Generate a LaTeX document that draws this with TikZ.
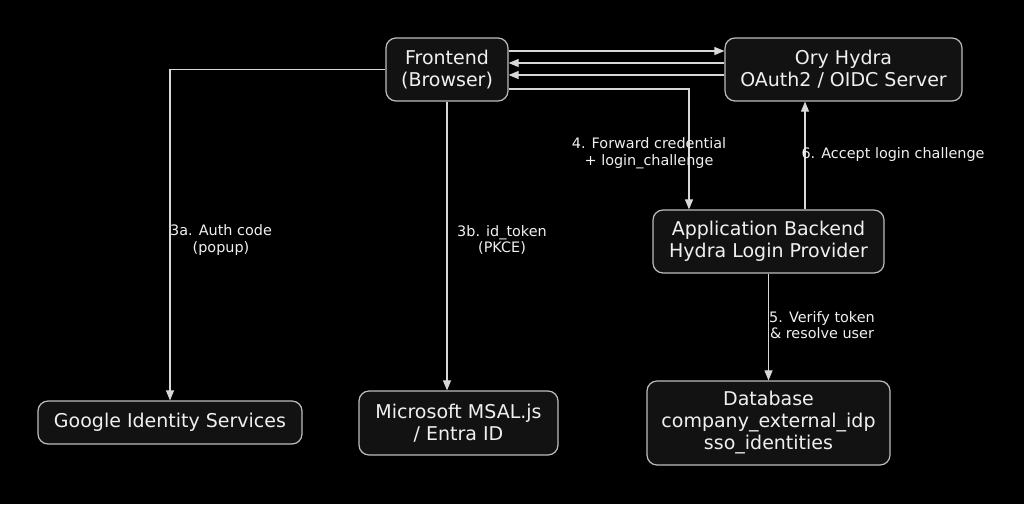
\documentclass[tikz,border=0pt]{standalone}
\usepackage{fontspec}
\setmainfont{DejaVu Sans}
\usetikzlibrary{arrows.meta,calc}
\definecolor{bg}{HTML}{000000}
\definecolor{boxfill}{HTML}{121212}
\definecolor{boxline}{HTML}{BDBDBD}
\definecolor{txt}{HTML}{F0F0F0}
\definecolor{edge}{HTML}{D8D8D8}
\tikzset{
  box/.style={draw=boxline, line width=1.2pt, fill=boxfill, rounded corners=10pt,
    text=txt, align=center, inner sep=0pt, font=\fontsize{19}{22}\selectfont},
  arr/.style={draw=edge, line width=1.1pt, -{Triangle[length=10pt,width=8pt]}},
  lbl/.style={text=txt, align=center, inner sep=0pt, font=\fontsize{14.4}{16.5}\selectfont},
}
\begin{document}
\begin{tikzpicture}[x=1pt,y=-1pt]
\fill[bg] (0,0) rectangle (1024,504);
\useasboundingbox (0,0) rectangle (1024,504);

\node[box, minimum width=122pt, minimum height=63pt] (fe) at (447,69.5) {Frontend\\(Browser)};
\node[box, minimum width=237pt, minimum height=63pt] (hy) at (843.5,69.5) {Ory Hydra\\OAuth2 / OIDC Server};
\node[box, minimum width=231pt, minimum height=63pt] (be) at (768.5,241.5) {Application Backend\\Hydra Login Provider};
\node[box, minimum width=243pt, minimum height=84pt] (db) at (768.5,423) {Database\\company\_external\_idp\\sso\_identities};
\node[box, minimum width=264pt, minimum height=43pt] (go) at (170,422.5) {Google Identity Services};
\node[box, minimum width=199pt, minimum height=64pt] (ms) at (458.5,423) {Microsoft MSAL.js\\/ Entra ID};

% Frontend <-> Hydra
\draw[arr] ([yshift=18.5pt]fe.east) -- ([yshift=18.5pt]hy.west);
\draw[arr] ([yshift=6.5pt]hy.west) -- ([yshift=6.5pt]fe.east);
\draw[arr] ([yshift=-5.5pt]hy.west) -- ([yshift=-5.5pt]fe.east);

% Frontend -> Google
\draw[arr] (fe.west) -| (go.north);
% Frontend -> MSAL
\draw[arr] (fe.south) -- (fe.south |- ms.north);
% Frontend -> Backend
\coordinate (bein) at ([xshift=-79.5pt]be.north);
\draw[arr] ([yshift=-19.5pt]fe.east) -| (bein);
% Backend -> Hydra
\coordinate (beout) at ([xshift=36.5pt]be.north);
\draw[arr] (beout) -- (beout |- hy.south);
% Backend -> DB
\draw[arr] (be.south) -- (db.north);

% labels
\node[lbl] (l3a) at (221,240) {3a. Auth code\\(popup)};
\node[lbl] (l3b) at (502,240) {3b. id\_token\\(PKCE)};
\node[lbl] (l4) at (649,153) {4. Forward credential\\+ login\_challenge};
\node[lbl] (l6) at (893,155) {6. Accept login challenge};
\node[lbl] (l5) at (822,325) {5. Verify token\\\& resolve user};
\end{tikzpicture}
\end{document}
